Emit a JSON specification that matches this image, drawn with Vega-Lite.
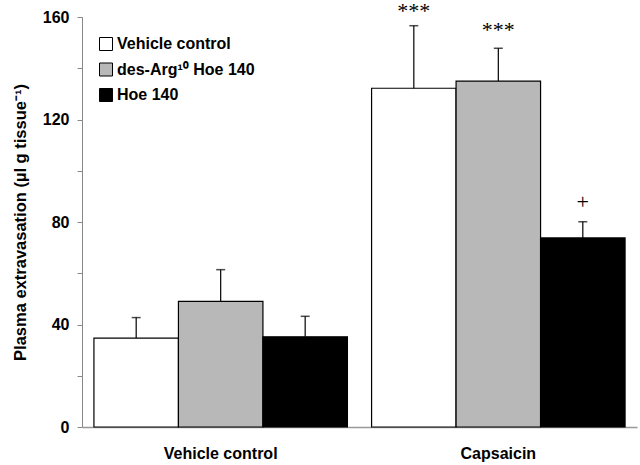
{
  "$schema": "https://vega.github.io/schema/vega-lite/v6.json",
  "width": 555,
  "height": 410,
  "autosize": {"type": "none"},
  "padding": {"left": 82, "top": 17, "right": 3, "bottom": 38},
  "background": "white",
  "config": {
    "view": {"stroke": null},
    "font": "Liberation Sans"
  },
  "data": {
    "values": [
      {"group": "Vehicle control", "treatment": "Vehicle control", "value": 34.7, "upper": 42.7, "sig": "", "sigY": 0},
      {"group": "Vehicle control", "treatment": "des-Arg¹⁰ Hoe 140", "value": 49.0, "upper": 61.4, "sig": "", "sigY": 0},
      {"group": "Vehicle control", "treatment": "Hoe 140", "value": 35.2, "upper": 43.2, "sig": "", "sigY": 0},
      {"group": "Capsaicin", "treatment": "Vehicle control", "value": 132.2, "upper": 156.6, "sig": "***", "sigY": 162.5},
      {"group": "Capsaicin", "treatment": "des-Arg¹⁰ Hoe 140", "value": 135.0, "upper": 147.8, "sig": "***", "sigY": 155},
      {"group": "Capsaicin", "treatment": "Hoe 140", "value": 73.8, "upper": 80.1, "sig": "+", "sigY": 88}
    ]
  },
  "encoding": {
    "x": {
      "field": "group",
      "type": "nominal",
      "sort": ["Vehicle control", "Capsaicin"],
      "scale": {"paddingInner": 0.087, "paddingOuter": 0.043},
      "axis": {
        "title": null,
        "labelAngle": 0,
        "ticks": false,
        "labelFont": "Liberation Sans",
        "labelFontWeight": "bold",
        "labelFontSize": 16,
        "labelColor": "black",
        "labelPadding": 18,
        "domainColor": "#999999",
        "domainWidth": 1.5
      }
    },
    "xOffset": {
      "field": "treatment",
      "type": "nominal",
      "scale": {"domain": ["Vehicle control", "des-Arg¹⁰ Hoe 140", "Hoe 140"], "paddingInner": 0, "paddingOuter": 0}
    }
  },
  "layer": [
    {
      "mark": {"type": "bar", "stroke": "black", "strokeWidth": 1.2},
      "encoding": {
        "y": {
          "field": "value",
          "type": "quantitative",
          "scale": {"domain": [0, 160], "nice": false},
          "axis": {
            "title": "Plasma extravasation (µl g tissue⁻¹)",
            "titleFont": "Liberation Sans",
            "titleFontWeight": "bold",
            "titleFontSize": 16.5,
            "titleColor": "black",
            "titlePadding": 14,
            "values": [0, 20, 40, 60, 80, 100, 120, 140, 160],
            "labelExpr": "datum.value % 40 === 0 ? datum.label : ''",
            "labelFont": "Liberation Sans",
            "labelFontWeight": "bold",
            "labelFontSize": 16,
            "labelColor": "black",
            "labelPadding": 8,
            "tickSize": 5,
            "tickColor": "#888888",
            "domainColor": "#888888",
            "grid": false
          }
        },
        "fill": {
          "field": "treatment",
          "type": "nominal",
          "scale": {"domain": ["Vehicle control", "des-Arg¹⁰ Hoe 140", "Hoe 140"], "range": ["#ffffff", "#b8b8b8", "#000000"]},
          "legend": {
            "title": null,
            "orient": "none",
            "legendX": 16,
            "legendY": 19,
            "symbolType": "square",
            "symbolSize": 169,
            "symbolStrokeColor": "black",
            "symbolStrokeWidth": 1,
            "symbolOpacity": 1,
            "labelFont": "Liberation Sans",
            "labelFontWeight": "bold",
            "labelFontSize": 16,
            "labelColor": "black",
            "labelOffset": 3,
            "rowPadding": 7.5
          }
        }
      }
    },
    {
      "mark": {"type": "rule", "color": "black", "strokeWidth": 1.2},
      "encoding": {
        "y": {"field": "value", "type": "quantitative"},
        "y2": {"field": "upper"}
      }
    },
    {
      "mark": {"type": "tick", "color": "black", "thickness": 1.5, "size": 9, "orient": "horizontal"},
      "encoding": {
        "y": {"field": "upper", "type": "quantitative"}
      }
    },
    {
      "mark": {"type": "text", "font": "Liberation Serif", "fontSize": 22, "fill": "black", "color": "black", "baseline": "middle"},
      "encoding": {
        "y": {"field": "sigY", "type": "quantitative"},
        "text": {"field": "sig"}
      }
    }
  ]
}
